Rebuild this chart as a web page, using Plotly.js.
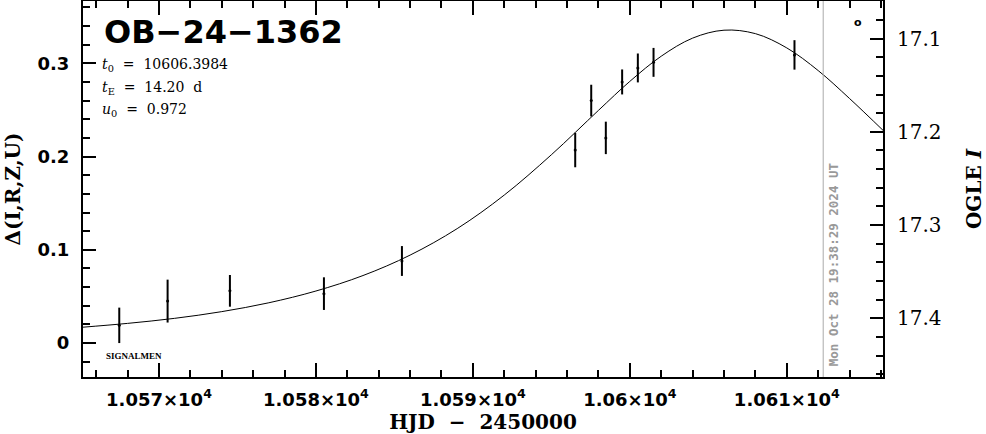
<!DOCTYPE html>
<html>
<head>
<meta charset="utf-8">
<script src="https://cdn.plot.ly/plotly-3.0.1.min.js"></script>
<style>html,body{margin:0;padding:0;background:#fff;}#chart{width:986px;height:434px;}</style>
</head>
<body>
<div id="chart"></div>
<script>
// Observations
const obsHJD   = [10567.47, 10570.55, 10574.52, 10580.51, 10585.48, 10596.52, 10597.54, 10598.47, 10599.51, 10600.51, 10601.51, 10610.49];
const obsDelta = [0.019, 0.045, 0.056, 0.053, 0.088, 0.207, 0.260, 0.220, 0.280, 0.295, 0.301, 0.309];
const obsErr   = [0.019, 0.023, 0.017, 0.0175, 0.016, 0.0185, 0.017, 0.0174, 0.0134, 0.0155, 0.0155, 0.0158];

// Model curve
const modelHJD   = [10565, 10568, 10571, 10574, 10577, 10580, 10583, 10586, 10589, 10592, 10595, 10598, 10600, 10602, 10604, 10606, 10608, 10610, 10612, 10614, 10616.2];
const modelDelta = [0.0168, 0.0211, 0.0265, 0.0337, 0.0432, 0.0558, 0.0724, 0.0943, 0.1227, 0.1587, 0.2019, 0.2495, 0.2806, 0.3076, 0.3270, 0.3355, 0.3318, 0.3165, 0.2922, 0.2622, 0.2270];

// Axis ticks
const xTickVals = [10570, 10580, 10590, 10600, 10610];
const xTickText = ['1.057×10<sup>4</sup>', '1.058×10<sup>4</sup>', '1.059×10<sup>4</sup>', '1.06×10<sup>4</sup>', '1.061×10<sup>4</sup>'];
const yTickVals = [0, 0.1, 0.2, 0.3];
const yTickText = ['0', '0.1', '0.2', '0.3'];
const magTickVals = [17.1, 17.2, 17.3, 17.4];
const magTickText = ['17.1', '17.2', '17.3', '17.4'];

const nowHJD = 10612.32;
const labelLines = ['<i>t</i><sub>0</sub>  =  10606.3984', '<i>t</i><sub>E</sub>  =  14.20  d', '<i>u</i><sub>0</sub>  =  0.972'];

const boldSans = {family: 'DejaVu Sans', size: 18, color: '#000', weight: 'bold'};
const NB = '\u00a0';
function nb(s) { return s.replace(/ /g, NB); }

const traces = [
  {x: modelHJD, y: modelDelta, mode: 'lines', line: {color: '#000', width: 1, shape: 'spline'}, hoverinfo: 'skip'},
  {x: obsHJD, y: obsDelta, mode: 'markers', marker: {color: '#000', size: 3},
   error_y: {type: 'data', array: obsErr, visible: true, thickness: 2, width: 0, color: '#000'}},
  {x: [nowHJD], y: [17.3], yaxis: 'y2', mode: 'markers', marker: {opacity: 0}, hoverinfo: 'skip'}
];

const layout = {
  width: 986, height: 434,
  margin: {l: 83, r: 103, t: 1, b: 57},
  paper_bgcolor: '#fff', plot_bgcolor: '#fff',
  showlegend: false,
  xaxis: {
    range: [10565.16, 10616.13], tickmode: 'array', tickvals: xTickVals, ticktext: xTickText,
    ticks: 'inside', ticklen: 14, tickwidth: 2, tickcolor: '#000',
    showline: true, linewidth: 2, linecolor: '#000', mirror: 'ticks',
    showgrid: false, zeroline: false, tickfont: boldSans, ticklabelstandoff: 5,
    minor: {tick0: 10570, dtick: 2, ticks: 'inside', ticklen: 7, tickwidth: 2, tickcolor: '#000', showgrid: false},
    title: {text: nb('HJD  −  2450000'), font: {family: 'DejaVu Serif', size: 20, color: '#000', weight: 'bold'}, standoff: 11}
  },
  yaxis: {
    range: [-0.0364, 0.3668], tickmode: 'array', tickvals: yTickVals, ticktext: yTickText,
    ticks: 'inside', ticklen: 13, tickwidth: 2, tickcolor: '#000',
    showline: true, linewidth: 2, linecolor: '#000', mirror: true,
    showgrid: false, zeroline: false, tickfont: boldSans, ticklabelstandoff: 8,
    minor: {tick0: 0, dtick: 0.02, ticks: 'inside', ticklen: 7, tickwidth: 2, tickcolor: '#000', showgrid: false},
    title: {text: 'Δ(I,R,Z,U)', font: {family: 'DejaVu Serif', size: 20, color: '#000', weight: 'bold'}, standoff: 12}
  },
  yaxis2: {
    overlaying: 'y', side: 'right', range: [17.4629, 17.0597],
    tickmode: 'array', tickvals: magTickVals, ticktext: magTickText,
    ticks: 'inside', ticklen: 13, tickwidth: 2, tickcolor: '#000',
    showline: true, linewidth: 2, linecolor: '#000',
    showgrid: false, zeroline: false, ticklabelstandoff: 8,
    tickfont: {family: 'DejaVu Serif', size: 20, color: '#000'},
    minor: {tick0: 17.0, dtick: 0.02, ticks: 'inside', ticklen: 7, tickwidth: 2, tickcolor: '#000', showgrid: false},
    title: {text: nb('OGLE <i>I</i>'), font: {family: 'DejaVu Serif', size: 20, color: '#000', weight: 'bold'}, standoff: 28}
  },
  shapes: [
    {type: 'line', xref: 'x', yref: 'paper', x0: nowHJD, x1: nowHJD, y0: 0, y1: 1, line: {color: '#aaaaaa', width: 1}}
  ],
  annotations: [
    {xref: 'paper', yref: 'paper', x: 19 / 800, y: (376 - 31) / 376, xanchor: 'left', yanchor: 'middle', showarrow: false,
     text: 'OB−24−1362', font: {family: 'DejaVu Sans', size: 32, color: '#000', weight: 'bold'}},
    {xref: 'paper', yref: 'paper', x: 17 / 800, y: (376 - 64) / 376, xanchor: 'left', yanchor: 'middle', showarrow: false,
     text: nb(labelLines[0]), font: {family: 'DejaVu Serif', size: 14, color: '#000'}},
    {xref: 'paper', yref: 'paper', x: 17 / 800, y: (376 - 87) / 376, xanchor: 'left', yanchor: 'middle', showarrow: false,
     text: nb(labelLines[1]), font: {family: 'DejaVu Serif', size: 14, color: '#000'}},
    {xref: 'paper', yref: 'paper', x: 17 / 800, y: (376 - 109) / 376, xanchor: 'left', yanchor: 'middle', showarrow: false,
     text: nb(labelLines[2]), font: {family: 'DejaVu Serif', size: 14, color: '#000'}},
    {xref: 'paper', yref: 'paper', x: 21 / 800, y: (376 - 355) / 376, xanchor: 'left', yanchor: 'middle', showarrow: false,
     text: 'SIGNALMEN', font: {family: 'Liberation Serif', size: 9, color: '#000', weight: 'bold'}},
    {xref: 'paper', yref: 'paper', x: (858 - 83) / 800, y: (376 - 22) / 376, xanchor: 'center', yanchor: 'middle', showarrow: false,
     text: 'o', font: {family: 'DejaVu Sans', size: 11, color: '#000', weight: 'bold'}},
    {xref: 'x', yref: 'paper', x: nowHJD, y: (376 - 367) / 376, xanchor: 'left', yanchor: 'bottom', xshift: 1, showarrow: false,
     textangle: -90, text: 'Mon Oct 28 19:38:29 2024 UT', font: {family: 'DejaVu Sans Mono', size: 12.5, color: '#999999', weight: 'bold'}}
  ]
};

Plotly.newPlot('chart', traces, layout, {staticPlot: true, displayModeBar: false});
</script>
</body>
</html>
